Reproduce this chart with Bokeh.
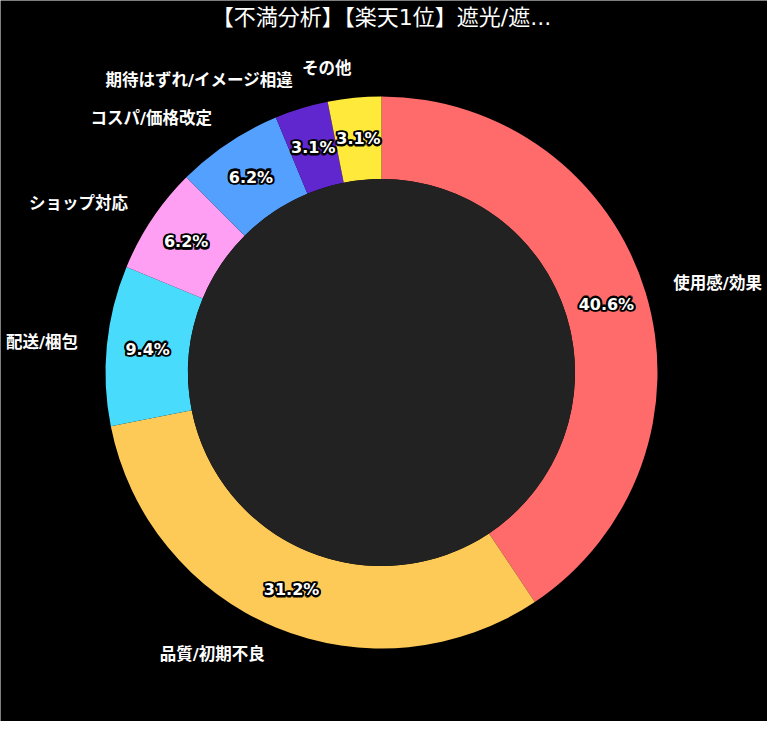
import numpy as np
from bokeh.plotting import figure
from bokeh.models import Range1d, ColumnDataSource
from bokeh.core.properties import value
from bokeh.embed import file_html
from bokeh.resources import INLINE

title_text = "【不満分析】【楽天1位】遮光/遮..."
categories = ["使用感/効果", "品質/初期不良", "配送/梱包", "ショップ対応",
              "コスパ/価格改定", "期待はずれ/イメージ相違", "その他"]
counts = [13, 10, 3, 2, 2, 1, 1]
pct_labels = ["40.6%", "31.2%", "9.4%", "6.2%", "6.2%", "3.1%", "3.1%"]
colors = ["#FF6B6B", "#FECA57", "#48DBFB", "#FF9FF3", "#54A0FF", "#5F27CD", "#FFE93B"]

W, H = 767, 721
cx, cy = 381, 372  # centre of the donut in frame pixels (from top-left)
R_OUT, R_IN = 276, 193.5
R_PCT, R_LAB = 235, 305

vals = np.array(counts, dtype=float)
frac = vals / vals.sum()
ends = np.pi / 2 - 2 * np.pi * np.cumsum(frac)
starts = np.concatenate([[np.pi / 2], ends[:-1]])
mids = (starts + ends) / 2

src = ColumnDataSource(dict(start=starts, end=ends, color=colors, cat=categories, pct=pct_labels,
                            px=R_PCT * np.cos(mids), py=R_PCT * np.sin(mids),
                            lx=R_LAB * np.cos(mids), ly=R_LAB * np.sin(mids),
                            align=["left" if np.cos(m) > 0 else "right" for m in mids]))

p = figure(width=W, height=H, output_backend="svg", toolbar_location=None,
           x_range=Range1d(-cx, W - cx), y_range=Range1d(-(H - cy), cy),
           min_border=0, background_fill_color="black", border_fill_color="black",
           outline_line_color=None)
p.axis.visible = False
p.grid.visible = False

p.annular_wedge(x=0, y=0, inner_radius=R_IN, outer_radius=R_OUT,
                start_angle="start", end_angle="end", direction="clock",
                fill_color="color", line_color=None, source=src)
p.circle(x=[0], y=[0], radius=R_IN, fill_color="#222222", line_color=None)

PCT_FONT = value("DejaVu Sans")
common = dict(x="px", y="py", text="pct", source=src, text_align="center",
              text_baseline="middle", text_font_size="16px",
              text_font_style="bold", text_font=PCT_FONT)
try:
    p.text(text_color="black", text_outline_color="black", text_outline_width=4, **common)
except Exception:
    for dx, dy in [(-1.5, 0), (1.5, 0), (0, -1.5), (0, 1.5),
                   (-1.2, -1.2), (1.2, -1.2), (-1.2, 1.2), (1.2, 1.2)]:
        p.text(text_color="black", text_outline_color="black",
               x_offset=dx, y_offset=dy, **common)
p.text(text_color="white", **common)

p.text(x="lx", y="ly", text="cat", source=src, text_align="align",
       text_baseline="middle", text_color="white", text_font_size="16.5px",
       text_font_style="bold", text_font=value("DejaVu Sans, Noto Sans CJK JP"))

p.text(x=[0], y=[cy - 17], text=[title_text], text_align="center", text_baseline="middle",
       text_color="white", text_font_size="22px",
       text_font=value("DejaVu Sans, Noto Sans CJK JP"))

open("out.html", "w").write(file_html(p, INLINE))
